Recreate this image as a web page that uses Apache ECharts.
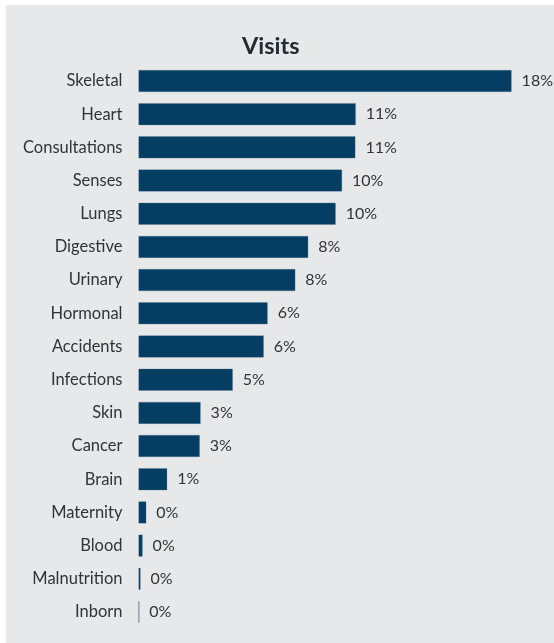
<!DOCTYPE html>
<html>
<head>
<meta charset="utf-8">
<script src="https://cdn.jsdelivr.net/npm/echarts@6/dist/echarts.min.js"></script>
<style>
  html, body { margin: 0; padding: 0; background: #ffffff; }
  body { width: 554px; height: 643px; position: relative; overflow: hidden; }
  #chart { position: absolute; left: 6px; top: 5px; width: 548px; height: 638px; background: #e7e8ea; }
</style>
</head>
<body>
<div id="chart"></div>
<script>
// Share of visits by category (percent), top to bottom
const categories = [
  'Skeletal', 'Heart', 'Consultations', 'Senses', 'Lungs', 'Digestive',
  'Urinary', 'Hormonal', 'Accidents', 'Infections', 'Skin', 'Cancer',
  'Brain', 'Maternity', 'Blood', 'Malnutrition', 'Inborn'
];
const visitShare = [
  18.2, 10.6, 10.58, 9.93, 9.62, 8.28,
  7.65, 6.3, 6.11, 4.6, 3.03, 2.99,
  1.4, 0.38, 0.2, 0.1, 0.04
];
const chartTitle = 'Visits';

const chart = echarts.init(document.getElementById('chart'), null, { renderer: 'canvas' });

chart.setOption({
  backgroundColor: 'transparent',
  animation: false,
  title: {
    text: chartTitle,
    left: 231,
    top: 24,
    textStyle: {
      fontFamily: 'Lato',
      fontWeight: 'bold',
      fontSize: 23.5,
      color: '#222b36'
    }
  },
  grid: {
    left: 132.5,
    top: 59.4,
    width: 410,
    height: 564.2,
    containLabel: false
  },
  xAxis: {
    type: 'value',
    min: 0,
    max: 20,
    show: false
  },
  yAxis: {
    type: 'category',
    data: categories,
    inverse: true,
    axisLine: { show: false },
    axisTick: { show: false },
    splitLine: { show: false },
    axisLabel: {
      margin: 16,
      fontFamily: 'Lato',
      fontSize: 16.5,
      color: '#333333',
      padding: [5, 0, 0, 0]
    }
  },
  series: [{
    type: 'bar',
    data: visitShare,
    barWidth: 22,
    itemStyle: {
      color: '#043f63',
      borderColor: 'rgba(90,115,140,0.6)',
      borderWidth: 0.5
    },
    label: {
      show: true,
      position: 'right',
      distance: 10,
      fontFamily: 'Lato',
      fontSize: 16,
      color: '#333333',
      padding: [3, 0, 0, 0]
    }
  }]
});

// value labels show the rounded percentage
chart.setOption({
  series: [{
    label: { formatter: p => Math.round(p.value) + '%' }
  }]
});
</script>
</body>
</html>
